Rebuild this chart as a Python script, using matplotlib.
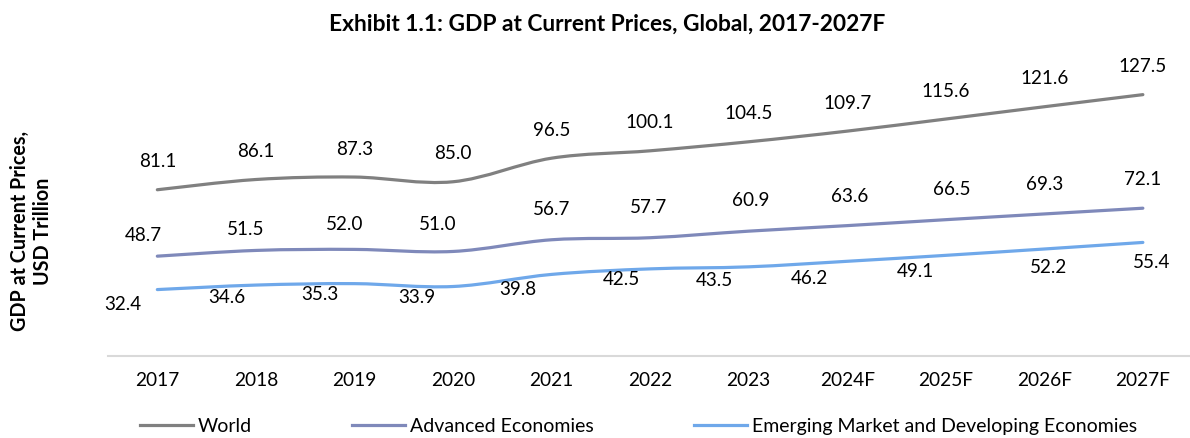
import numpy as np
import matplotlib
matplotlib.use("Agg")
import matplotlib.pyplot as plt
from matplotlib.path import Path
from matplotlib.patches import PathPatch
from matplotlib.lines import Line2D

plt.rcParams['font.family'] = ['Lato', 'DejaVu Sans']

years = ['2017', '2018', '2019', '2020', '2021', '2022', '2023',
         '2024F', '2025F', '2026F', '2027F']
world = [81.1, 86.1, 87.3, 85.0, 96.5, 100.1, 104.5, 109.7, 115.6, 121.6, 127.5]
advanced = [48.7, 51.5, 52.0, 51.0, 56.7, 57.7, 60.9, 63.6, 66.5, 69.3, 72.1]
emerging = [32.4, 34.6, 35.3, 33.9, 39.8, 42.5, 43.5, 46.2, 49.1, 52.2, 55.4]

# label offsets in pixels (dx, dy)
world_dx = [0] * 11
world_dy = [29] * 11
adv_dx = [-14, -10, -10, -15, 0, -2, 2, 2, 6, 0, 0]
adv_dy = [22, 22, 26, 28, 31, 31, 32, 30, 31, 30, 30]
em_dx = [-35, -29, -35, -36, -34, -29, -34, -38, -30, 4, 9]
em_dy = [-14, -11, -10, -10, -14, -10, -13, -16, -15, -18, -19]


def smooth_path(xs, ys):
    # excel-like smoothed line: cubic bezier with catmull-rom tangents
    p = np.column_stack([xs, ys]).astype(float)
    ext = np.vstack([p[0], p, p[-1]])
    verts = [p[0]]
    codes = [Path.MOVETO]
    for i in range(len(p) - 1):
        p0, p1, p2, p3 = ext[i], ext[i + 1], ext[i + 2], ext[i + 3]
        c1 = p1 + (p2 - p0) / 6.0
        c2 = p2 - (p3 - p1) / 6.0
        verts += [c1, c2, p2]
        codes += [Path.CURVE4] * 3
    return Path(verts, codes)


fig = plt.figure(figsize=(11.9, 4.39), dpi=100)
ax = fig.add_axes([0.0908, 0.1868, 0.911, 0.6537])

x = np.arange(len(years))
series = [
    ('World', world, '#808080', world_dx, world_dy),
    ('Advanced Economies', advanced, '#7F89BA', adv_dx, adv_dy),
    ('Emerging Market and Developing Economies', emerging, '#6FA8EA', em_dx, em_dy),
]

handles = []
for name, vals, col, dxs, dys in series:
    patch = PathPatch(smooth_path(x, vals), facecolor='none', edgecolor=col,
                      lw=2.3, capstyle='round')
    ax.add_patch(patch)
    for xi, v, dx, dy in zip(x, vals, dxs, dys):
        ax.annotate('%.1f' % v, (xi, v), xytext=(dx, dy),
                    textcoords='offset pixels', ha='center', va='center',
                    fontsize=13.6, color='#000000')
    handles.append(Line2D([], [], color=col, lw=2.3, label=name))

ax.set_xlim(-0.5, 10.5)
ax.set_ylim(0, 140)
ax.set_xticks(x)
ax.set_xticklabels(years, fontsize=13.8)
ax.tick_params(axis='x', length=0, pad=11)
ax.set_yticks([])
for s in ['top', 'right', 'left']:
    ax.spines[s].set_visible(False)
ax.spines['bottom'].set_color('#D9D9D9')
ax.spines['bottom'].set_linewidth(1.5)
ax.patch.set_visible(False)

fig.text(607 / 1190, 1 - 24 / 439, 'Exhibit 1.1: GDP at Current Prices, Global, 2017-2027F',
         ha='center', va='center', fontsize=16.4, fontweight='bold')
fig.text(31.5 / 1190, 1 - 231 / 439, 'GDP at Current Prices,\nUSD Trillion',
         ha='center', va='center', rotation=90, fontsize=14.2,
         fontweight='bold', linespacing=1.2)

fig.legend(handles=handles, loc='center', bbox_to_anchor=(638.5 / 1190, 12 / 439),
           ncol=3, frameon=False, fontsize=14, handlelength=2.73,
           handletextpad=0.26, columnspacing=5.15)

fig.savefig('out.png', dpi=100)
